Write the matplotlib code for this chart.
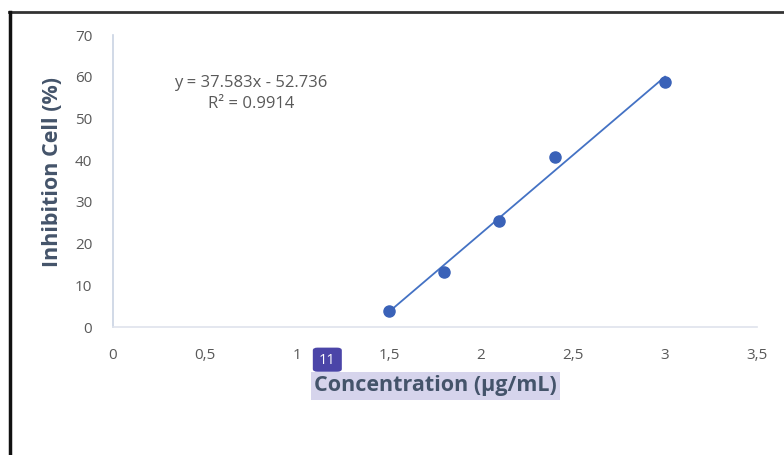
import numpy as np
import matplotlib.pyplot as plt
from matplotlib.lines import Line2D
from matplotlib.patches import FancyBboxPatch

plt.rcParams['font.family'] = ['Open Sans', 'DejaVu Sans']

conc = [1.5, 1.8, 2.1, 2.4, 3.0]
inhibition = [3.8, 13.3, 25.4, 40.8, 58.8]
slope, intercept = 37.583, -52.736
r2 = 0.9914
xticks = [0, 0.5, 1, 1.5, 2, 2.5, 3, 3.5]
xtick_labels = ['0', '0,5', '1', '1,5', '2', '2,5', '3', '3,5']
yticks = [0, 10, 20, 30, 40, 50, 60, 70]

fig = plt.figure(figsize=(7.84, 4.55), dpi=100)
ax = fig.add_axes([0.1441, 0.2813, 0.8215, 0.6417])

blue = '#4472c4'
xfit = np.array([conc[0], conc[-1]])
ax.plot(xfit, slope * xfit + intercept, color=blue, lw=1.3, zorder=2)
ax.plot(conc, inhibition, 'o', color='#3a62b8', ms=8, zorder=3)

ax.set_xlim(0, 3.5)
ax.set_ylim(0, 70)
ax.set_xticks(xticks)
ax.set_xticklabels(xtick_labels)
ax.set_yticks(yticks)
ax.tick_params(length=0, labelsize=11, colors='#595959')
ax.tick_params(axis='x', pad=15)
ax.tick_params(axis='y', pad=15)
for s in ['top', 'right']:
    ax.spines[s].set_visible(False)
ax.spines['left'].set_color('#c9d3e3')
ax.spines['bottom'].set_color('#dfe3ec')
ax.spines['left'].set_linewidth(1.2)
ax.spines['bottom'].set_linewidth(1.2)

eq = f'y = {slope}x - {abs(intercept)}\nR² = {r2}'
ax.text(0.75, 56, eq, ha='center', va='center',
        fontsize=12, color='#595959', linespacing=1.35)

ax.set_ylabel('Inhibition Cell (%)', fontsize=15.5, fontweight='bold', color='#44546a')
ax.yaxis.set_label_coords(-0.078, 0.531)

# highlighted axis title with a numbered badge
fig.text(0.5555, 0.152, 'Concentration (µg/mL)', ha='center', va='center', fontsize=15.5,
         fontweight='bold', color='#44546a',
         bbox=dict(boxstyle='square,pad=0.15', fc='#d6d4ec', ec='none'))
badge = FancyBboxPatch((0.399, 0.183), 0.037, 0.053, boxstyle='round,pad=0,rounding_size=0.006',
                       transform=fig.transFigure, fc='#4b45a8', ec='none')
fig.patches.append(badge)
fig.text(0.4175, 0.208, '11', ha='center', va='center', fontsize=10.5, color='white')

# outer frame edges
fig.lines.append(Line2D([0.012, 1.0], [0.973, 0.973], transform=fig.transFigure, color='#333333', lw=2))
fig.lines.append(Line2D([0.0125, 0.0125], [0.0, 0.973], transform=fig.transFigure, color='#111111', lw=2.5))

fig.savefig('out.png', dpi=100)
